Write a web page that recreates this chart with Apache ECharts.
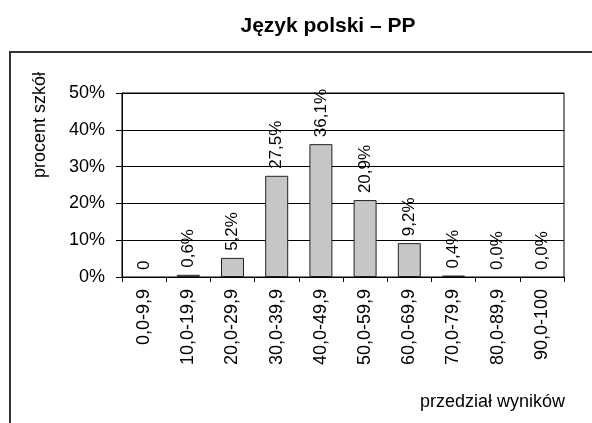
<!DOCTYPE html>
<html>
<head>
<meta charset="utf-8">
<script src="https://cdn.jsdelivr.net/npm/echarts@6/dist/echarts.min.js"></script>
<style>
  html, body { margin: 0; padding: 0; background: #fff; }
  #chart { width: 592px; height: 423px; }
</style>
</head>
<body>
<div id="chart"></div>
<script>
//  przedziały wyników
const categories = ['0,0-9,9', '10,0-19,9', '20,0-29,9', '30,0-39,9', '40,0-49,9',
    '50,0-59,9', '60,0-69,9', '70,0-79,9', '80,0-89,9', '90,0-100'];
//  procent szkół
const values = [0, 0.6, 5.2, 27.5, 36.1, 20.9, 9.2, 0.4, 0, 0];
//  etykiety nad słupkami
const valueLabels = ['0', '0,6%', '5,2%', '27,5%', '36,1%', '20,9%', '9,2%', '0,4%', '0,0%', '0,0%'];
const yTicks = [0, 10, 20, 30, 40, 50];

const FONT = '"Liberation Sans", Arial, sans-serif';

const myChart = echarts.init(document.getElementById('chart'));
myChart.setOption({
    backgroundColor: '#fff',
    animation: false,
    title: {
        text: 'Język polski – PP',
        left: 323,
        textAlign: 'center',
        top: 11,
        textStyle: {fontFamily: FONT, fontSize: 21, fontWeight: 'bold', color: '#000'}
    },
    graphic: [{
        //  ramka
        type: 'polyline',
        shape: {points: [[10, 423], [10, 52], [592, 52]]},
        style: {stroke: '#333', lineWidth: 2, fill: null}
    }, {
        type: 'text',
        x: 565,
        y: 402,
        style: {
            text: 'przedział wyników', font: '18px ' + FONT, fill: '#000',
            align: 'right', verticalAlign: 'middle'
        }
    }, {
        type: 'text',
        x: 40,
        y: 125,
        rotation: Math.PI / 2,
        style: {
            text: 'procent szkół', font: '18px ' + FONT, fill: '#000',
            align: 'center', verticalAlign: 'middle'
        }
    }],
    grid: {
        left: 122,
        right: 28,
        top: 93,
        bottom: 146,
        show: true,
        borderColor: '#000',
        borderWidth: 1
    },
    xAxis: {
        type: 'category',
        data: categories,
        axisLine: {lineStyle: {color: '#000', width: 1}},
        axisTick: {show: true, length: 5, lineStyle: {color: '#000'}},
        axisLabel: {
            rotate: 90,
            margin: 12,
            fontFamily: FONT,
            fontSize: 18,
            color: '#000'
        }
    },
    yAxis: {
        type: 'value',
        min: yTicks[0],
        max: yTicks[yTicks.length - 1],
        interval: 10,
        axisLine: {show: true, lineStyle: {color: '#000', width: 1}},
        axisTick: {show: true, length: 6, lineStyle: {color: '#000'}},
        axisLabel: {
            formatter: '{value}%',
            margin: 17,
            fontFamily: FONT,
            fontSize: 18,
            color: '#000'
        },
        splitLine: {lineStyle: {color: '#000', width: 1}}
    },
    series: [{
        type: 'bar',
        data: values.map(function (v) {
            //  słupki zerowe bez obramowania
            return v === 0 ? {value: v, itemStyle: {borderWidth: 0}} : v;
        }),
        barWidth: '52%',
        itemStyle: {color: '#c6c6c6', borderColor: '#222', borderWidth: 1},
        label: {
            show: true,
            position: 'top',
            rotate: 90,
            align: 'left',
            verticalAlign: 'middle',
            distance: 7,
            fontFamily: FONT,
            fontSize: 17,
            color: '#000',
            formatter: function (p) {
                return valueLabels[p.dataIndex];
            }
        }
    }]
});
</script>
</body>
</html>
